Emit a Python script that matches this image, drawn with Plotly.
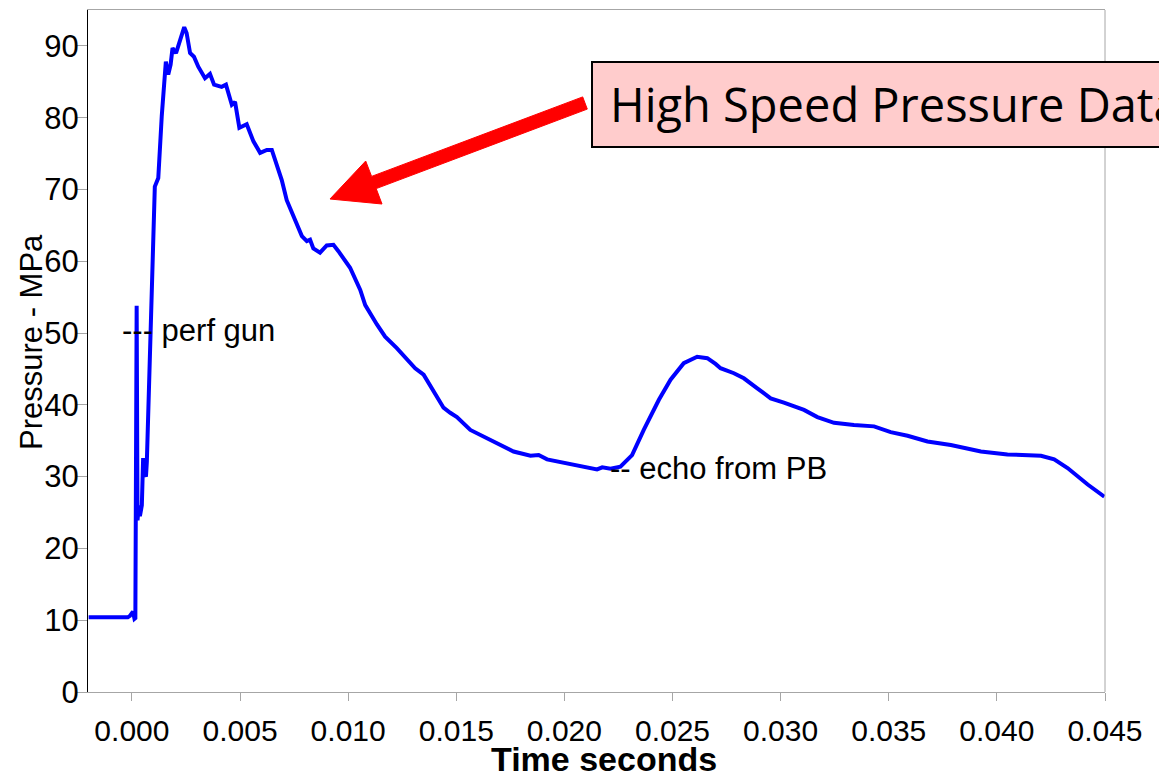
import plotly.graph_objects as go

# ---- data (time in seconds, pressure in MPa) ----
time_ms = [-2.00, -1.02, -0.19, -0.09, 0.05, 0.12, 0.16, 0.22, 0.26, 0.32, 0.37, 0.46,
           0.52, 0.58, 0.65, 0.69, 0.96, 1.06, 1.22, 1.38, 1.57, 1.68, 1.79, 1.88,
           2.04, 2.19, 2.30, 2.42, 2.53, 2.69, 2.87, 3.07, 3.38, 3.61, 3.80, 4.15,
           4.35, 4.62, 4.77, 4.97, 5.31, 5.62, 5.93, 6.24, 6.47, 6.70, 6.93, 7.16,
           7.47, 7.70, 7.86, 8.09, 8.24, 8.39, 8.70, 9.01, 9.32, 9.55, 9.86, 10.09,
           10.56, 10.79, 11.33, 11.71, 12.25, 12.79, 13.10, 13.49, 13.95, 14.41, 14.72,
           15.03, 15.65, 16.26, 16.88, 17.65, 18.43, 18.81, 19.20, 19.97, 20.74, 21.51,
           21.75, 22.13, 22.59, 23.13, 23.67, 24.37, 24.91, 25.52, 26.14, 26.61, 26.99,
           27.22, 27.84, 28.30, 28.92, 29.54, 30.15, 31.08, 31.70, 32.47, 33.39, 34.32,
           35.09, 35.87, 36.79, 37.87, 39.26, 40.49, 42.04, 42.65, 43.27, 44.20, 44.97]
pressure = [10.4, 10.4, 10.4, 10.6, 11.2, 10.2, 10.3, 53.8, 23.9, 26.0, 24.5, 26.0,
            32.6, 30.5, 30.0, 32.0, 57.4, 70.4, 71.6, 80.2, 87.8, 86.0, 87.4, 89.7,
            89.0, 90.6, 91.3, 92.6, 91.8, 89.0, 88.5, 87.1, 85.5, 86.1, 84.6, 84.3,
            84.6, 81.8, 82.2, 78.6, 79.1, 76.7, 75.1, 75.5, 75.5, 73.4, 71.3, 68.5,
            66.2, 64.8, 63.5, 62.8, 63.0, 61.8, 61.2, 62.2, 62.3, 61.4, 60.2, 59.1,
            56.0, 53.9, 51.2, 49.5, 47.9, 46.0, 45.1, 44.2, 41.9, 39.6, 38.9,
            38.3, 36.5, 35.6, 34.7, 33.5, 32.9, 33.0, 32.4, 31.9, 31.4, 31.0,
            31.3, 31.1, 31.4, 33.0, 36.5, 40.7, 43.5, 45.8, 46.7, 46.5, 45.7,
            45.1, 44.4, 43.7, 42.3, 40.9, 40.3, 39.3, 38.3, 37.5, 37.2, 37.0,
            36.2, 35.7, 34.9, 34.4, 33.5, 33.1, 32.9, 32.4, 31.2, 28.9, 27.2]
time_s = [t / 1000.0 for t in time_ms]

x_ticks = [0.000, 0.005, 0.010, 0.015, 0.020, 0.025, 0.030, 0.035, 0.040, 0.045]
y_ticks = [0, 10, 20, 30, 40, 50, 60, 70, 80, 90]

# ---- layout geometry ----
W, H = 1159, 779
ML, MR, MT, MB = 88, 54, 10, 87
PW = W - ML - MR
PH = H - MT - MB

def px(xp):
    return (xp - ML) / PW

def py(yp):
    return (H - MB - yp) / PH

FONT = "Liberation Sans, Arial, sans-serif"
GRAY = "#a6a6a6"

fig = go.Figure()
fig.add_trace(go.Scatter(x=time_s, y=pressure, mode="lines",
                         line=dict(color="#0000ff", width=4), showlegend=False,
                         hoverinfo="skip"))

fig.update_layout(
    width=W, height=H,
    margin=dict(l=ML, r=MR, t=MT, b=MB),
    paper_bgcolor="white", plot_bgcolor="white",
    showlegend=False,
)
fig.update_xaxes(range=[-0.00203, 0.045], tickvals=x_ticks, tickformat=".3f",
                 showgrid=False, zeroline=False, showline=True, linecolor=GRAY,
                 linewidth=1, mirror=True, ticks="outside", ticklen=8, tickcolor=GRAY,
                 tickfont=dict(family=FONT, size=30, color="black"),
                 ticklabelstandoff=4)
fig.update_yaxes(range=[0, 95], tickvals=y_ticks, showgrid=False, zeroline=False,
                 showline=True, linecolor="black", linewidth=1, mirror=False,
                 ticks="outside", ticklen=10, tickcolor=GRAY,
                 tickfont=dict(family=FONT, size=31, color="black"),
                 ticklabelstandoff=-8)

shapes = []
# right border of plot area
shapes.append(dict(type="line", xref="paper", yref="paper", x0=1, x1=1, y0=0, y1=1,
                   line=dict(color=GRAY, width=1)))
# callout box
shapes.append(dict(type="rect", xref="paper", yref="paper",
                   x0=px(592), x1=px(1200), y0=py(147), y1=py(62),
                   fillcolor="#ffcccc", line=dict(color="black", width=2), layer="above"))
# red arrow polygon
arrow_pts = [(330, 199), (365.7, 161), (371.6, 176.4), (582.7, 96.9), (587.3, 109.1),
             (376.2, 188.6), (382, 204)]
path = "M " + " L ".join(f"{px(a):.5f},{py(b):.5f}" for a, b in arrow_pts) + " Z"
shapes.append(dict(type="path", xref="paper", yref="paper", path=path,
                   fillcolor="#ff0000", line=dict(color="#ff0000", width=1), layer="above"))
fig.update_layout(shapes=shapes)

annotations = [
    dict(text="High Speed Pressure Data", xref="paper", yref="paper", x=px(608), y=py(104),
         xanchor="left", yanchor="middle", showarrow=False,
         font=dict(family="Open Sans, Noto Sans, sans-serif", size=47, color="black")),
    dict(text="--- perf gun", xref="x", yref="y", x=-0.00055, y=50.4,
         xanchor="left", yanchor="middle", showarrow=False,
         font=dict(family=FONT, size=31, color="black")),
    dict(text="-- echo from PB", xref="x", yref="y", x=0.02203, y=31.2,
         xanchor="left", yanchor="middle", showarrow=False,
         font=dict(family=FONT, size=31, color="black")),
    dict(text="<b>Time seconds</b>", xref="paper", yref="paper", x=px(604), y=py(759),
         xanchor="center", yanchor="middle", showarrow=False,
         font=dict(family=FONT, size=34, color="black")),
    dict(text="Pressure - MPa", xref="paper", yref="paper", x=px(31), y=py(342),
         xanchor="center", yanchor="middle", showarrow=False, textangle=-90,
         font=dict(family=FONT, size=31, color="black")),
]
fig.update_layout(annotations=annotations)

fig.write_html("out.html")
